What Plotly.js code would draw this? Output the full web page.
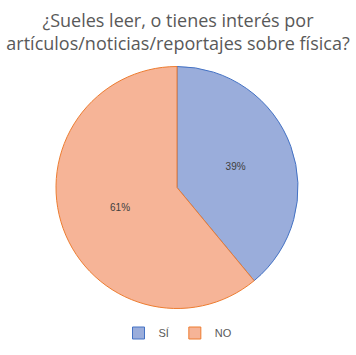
<!DOCTYPE html>
<html><head><meta charset="utf-8">
<script src="https://cdn.plot.ly/plotly-3.0.1.min.js"></script>
<style>html,body{margin:0;padding:0;background:#fff}#chart{width:356px;height:355px}</style>
</head><body><div id="chart"></div>
<script>
const labels = ["SÍ", "NO"];
const values = [39, 61];
const fills = ["#9aaddb", "#f6b497"];
const borders = ["#4472c4", "#ed7d31"];

const data = [{
  type: "pie",
  labels: labels,
  values: values,
  sort: false,
  direction: "clockwise",
  rotation: 0,
  marker: {colors: fills, line: {color: borders, width: 1}},
  textinfo: "percent",
  texttemplate: "%{percent:.0%}",
  textposition: "inside",
  insidetextorientation: "horizontal",
  textfont: {family: "Liberation Sans, Arial, sans-serif", size: 10, color: "#404040"},
  hoverinfo: "none",
  domain: {x: [56/356, 298/356], y: [1 - 309/355, 1 - 66/355]}
}];

const layout = {
  width: 356, height: 355,
  margin: {l: 0, r: 0, t: 0, b: 0},
  paper_bgcolor: "#fff",
  title: {
    text: "¿Sueles leer, o tienes interés por<br>artículos/noticias/reportajes sobre física?",
    font: {family: "Open Sans, sans-serif", size: 18, color: "#595959"},
    x: 0.5, xanchor: "center", xref: "container",
    y: 1 - 27/355, yanchor: "top", yref: "container"
  },
  showlegend: true,
  legend: {
    orientation: "h", x: 0.5, xanchor: "center", y: 1 - 333/355, yanchor: "middle",
    font: {family: "Liberation Sans, Arial, sans-serif", size: 11, color: "#595959"},
    itemwidth: 30
  }
};
Plotly.newPlot("chart", data, layout, {displayModeBar: false, staticPlot: true});
</script></body></html>
